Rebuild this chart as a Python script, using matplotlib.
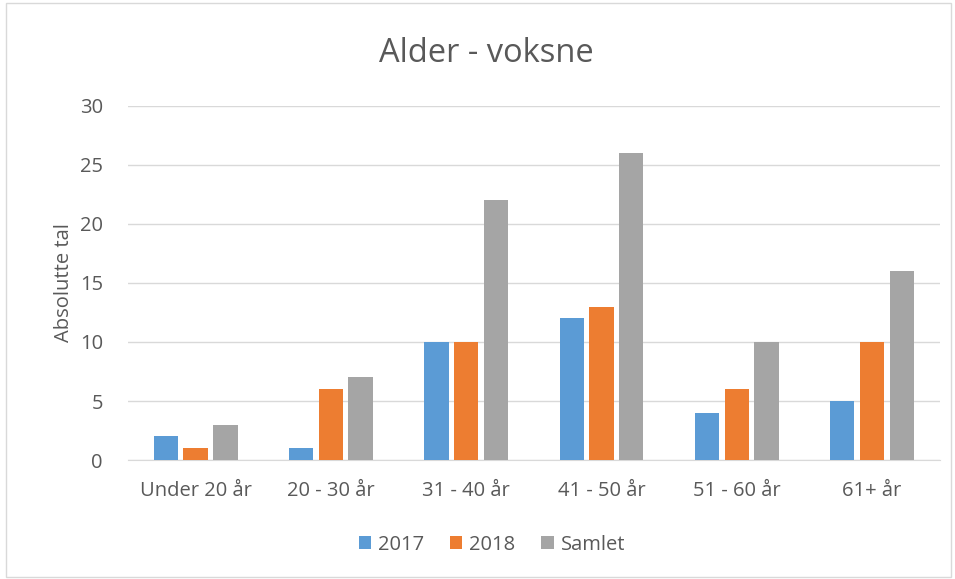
import matplotlib
matplotlib.use("Agg")
import matplotlib.pyplot as plt
import numpy as np
from matplotlib.patches import Rectangle

categories = ["Under 20 år", "20 - 30 år", "31 - 40 år", "41 - 50 år", "51 - 60 år", "61+ år"]
s2017 = [2, 1, 10, 12, 4, 5]
s2018 = [1, 6, 10, 13, 6, 10]
samlet = [3, 7, 22, 26, 10, 16]
series_names = ["2017", "2018", "Samlet"]
colors = ["#5B9BD5", "#ED7D31", "#A5A5A5"]

plt.rcParams['font.family'] = ['Open Sans', 'DejaVu Sans']
txt = "#595959"

fig = plt.figure(figsize=(9.55, 5.79), dpi=100)
fig.patches.append(Rectangle((0.006, 0.004), 0.99, 0.99, transform=fig.transFigure,
                             fill=False, edgecolor="#D9D9D9", linewidth=1))
ax = fig.add_axes([0.134, 0.2055, 0.85, 0.6115])

x = np.arange(len(categories))
w = 0.18
step = 0.22
for i, (vals, c) in enumerate(zip([s2017, s2018, samlet], colors)):
    ax.bar(x + (i - 1) * step, vals, w, color=c, label=series_names[i], zorder=3)

ax.set_xlim(-0.5, len(categories) - 0.5)
ax.set_ylim(0, 30)
ax.set_yticks(range(0, 31, 5))
ax.yaxis.grid(True, color="#D9D9D9", linewidth=1, zorder=0)
ax.set_axisbelow(True)
for s in ["top", "right", "left"]:
    ax.spines[s].set_visible(False)
ax.spines["bottom"].set_color("#D9D9D9")
ax.tick_params(axis="both", length=0, colors=txt, labelsize=14.5)
ax.tick_params(axis="x", pad=15)
ax.tick_params(axis="y", pad=18)
ax.set_xticks(x)
ax.set_xticklabels(categories)
ax.set_ylabel("Absolutte tal", color=txt, fontsize=14.5, labelpad=4)
fig.text(0.509, 0.907, "Alder - voksne", color=txt, fontsize=23.5, ha="center", va="center")

leg = fig.legend(loc="center", bbox_to_anchor=(0.515, 0.059), ncol=3, frameon=False,
                 fontsize=14.5, handlelength=0.6, handleheight=0.6, columnspacing=1.3,
                 handletextpad=0.35, labelcolor=txt)

fig.savefig("out.png", dpi=100)
